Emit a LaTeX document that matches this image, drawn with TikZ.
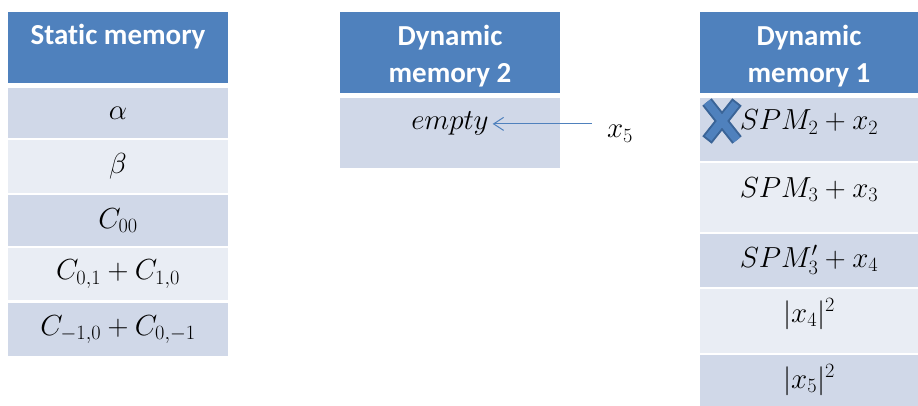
\RequirePackage{fix-cm}
\documentclass[tikz,border=0pt]{standalone}
\usepackage{fontspec}
\newfontfamily\hdrfont[Ligatures=NoCommon]{Carlito}
\usetikzlibrary{arrows.meta}
\definecolor{hdrblue}{HTML}{4F81BD}
\definecolor{rowdark}{HTML}{D0D8E8}
\definecolor{rowlight}{HTML}{E9EDF4}
\definecolor{xline}{HTML}{3A6497}
\begin{document}
\begin{tikzpicture}[x=1pt,y=-1pt,
	cell/.style={anchor=north west,inner sep=0,outer sep=0},
	hdr/.style={text=white,font=\hdrfont\bfseries\fontsize{29}{37}\selectfont,align=center,inner sep=0},
	entry/.style={font=\fontsize{29}{35}\selectfont,inner sep=0},
	arr/.style={-{Straight Barb[length=10pt,width=13pt]},hdrblue,line width=1pt}]
	\fill[white] (0,0) rectangle (918,406);
	\useasboundingbox (0,0) rectangle (918,406);
	% static memory
	\node[cell,fill=hdrblue,minimum width=220,minimum height=71] (sh) at (8,12) {};
	\node[hdr,anchor=base] (sht) at (118,45) {Static memory};
	\foreach \t/\b/\c/\m [count=\i] in {88/138/rowdark/\alpha, 140/193/rowlight/\beta, 195/246/rowdark/C_{00}, 248/300/rowlight/{C_{0,1}+C_{1,0}}, 303/356/rowdark/{C_{-1,0}+C_{0,-1}}}
	{
		\pgfmathsetmacro\h{\b-\t}
		\node[cell,fill=\c,minimum width=220,minimum height=\h] (s\i) at (8,\t) {};
		\node[entry] (st\i) at (s\i.center) {$\m$};
	}
	% dynamic memory 2
	\node[cell,fill=hdrblue,minimum width=220,minimum height=81] (eh) at (340,12) {};
	\node[hdr] (eht) at (450,56) {Dynamic\\memory 2};
	\node[cell,fill=rowdark,minimum width=220,minimum height=70] (e1) at (340,98) {};
	\node[entry,anchor=base,outer sep=4pt] (et1) at (450,130) {$empty$};
	\node[entry,anchor=base] (x5) at (620,138) {$x_5$};
	\draw[arr,shorten <=15pt] (x5.west |- et1.east) -- (et1.east);
	% dynamic memory 1
	\node[cell,fill=hdrblue,minimum width=218,minimum height=81] (dh) at (700,12) {};
	\node[hdr] (dht) at (809,56) {Dynamic\\memory 1};
	\foreach \t/\b/\c/\y/\m [count=\i] in {98/161/rowdark/130/{SPM_2+x_2}, 163/232/rowlight/197/{SPM_3+x_3}, 234/287/rowdark/267/{SPM'_3+x_4}, 289/353/rowlight/322/{|x_4|^2}, 355/406/rowdark/388/{|x_5|^2}}
	{
		\pgfmathsetmacro\h{\b-\t}
		\node[cell,fill=\c,minimum width=218,minimum height=\h] (d\i) at (700,\t) {};
		\node[entry,anchor=base] (dt\i) at (809,\y) {$\m$};
	}
	% cross over the first entry
	\draw[xline,line width=12] (707,102) -- (737,140) (737,102) -- (707,140);
	\draw[hdrblue,line width=8,shorten <=2pt,shorten >=2pt] (707,102) -- (737,140) (737,102) -- (707,140);
\end{tikzpicture}
\end{document}
